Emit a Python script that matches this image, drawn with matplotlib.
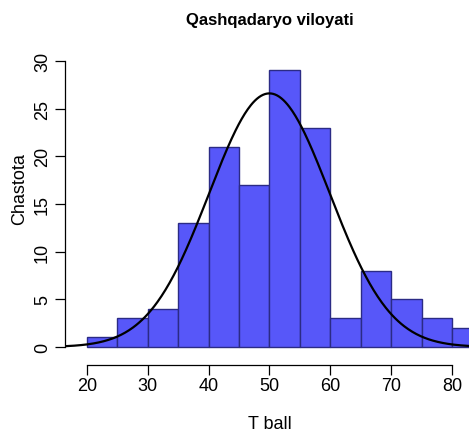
import numpy as np
import matplotlib
matplotlib.use("Agg")
import matplotlib.pyplot as plt

# histogram data (bin edges of width 5, counts)
bin_left = [20, 25, 30, 35, 40, 45, 50, 55, 60, 65, 70, 75, 80]
counts = [1, 3, 4, 13, 21, 17, 29, 23, 3, 8, 5, 3, 2]
bin_width = 5

# fitted normal curve parameters
mu = 50.0
sigma = 9.9

plt.rcParams['font.family'] = ['Liberation Sans', 'DejaVu Sans']

W, H = 469, 435
fig = plt.figure(figsize=(W / 100, H / 100), dpi=100)
left, right, top, bottom = 65, 469, 40, 352
ax = fig.add_axes([left / W, 1 - bottom / H, (right - left) / W, (bottom - top) / H])

ax.bar(bin_left, counts, width=bin_width, align='edge',
       color='#5757f9', edgecolor='#2b2b85', linewidth=1.0)

n = sum(counts)
xs = np.linspace(16.4, 83, 400)
ys = n * bin_width * np.exp(-0.5 * ((xs - mu) / sigma) ** 2) / (sigma * np.sqrt(2 * np.pi))
ax.plot(xs, ys, color='black', linewidth=1.6)

ax.set_xlim(16.4, 82.8)
ax.set_ylim(-0.42, 32.3)

for s in ['top', 'right']:
    ax.spines[s].set_visible(False)
ax.spines['left'].set_bounds(0, 30)
ax.spines['bottom'].set_bounds(20, 80)
ax.spines['bottom'].set_position(('outward', 10))
ax.spines['left'].set_linewidth(0.9)
ax.spines['bottom'].set_linewidth(0.9)

ax.set_yticks(range(0, 31, 5))
ax.set_xticks(range(20, 81, 10))
ax.tick_params(axis='y', length=7, width=0.9, labelsize=13, labelrotation=90, pad=3)
ax.tick_params(axis='x', length=7, width=0.9, labelsize=13, pad=2)
for lab in ax.get_yticklabels():
    lab.set_va('center')

fig.text(20 / W, 1 - 189 / H, "Chastota", rotation=90, ha='center', va='center', fontsize=13)
fig.text(270 / W, 1 - 425 / H, "T ball", ha='center', va='center', fontsize=13)
fig.text(270 / W, 1 - 21 / H, "Qashqadaryo viloyati", ha='center', va='center',
         fontsize=12, fontweight='bold')

fig.savefig("out.png", dpi=100)
